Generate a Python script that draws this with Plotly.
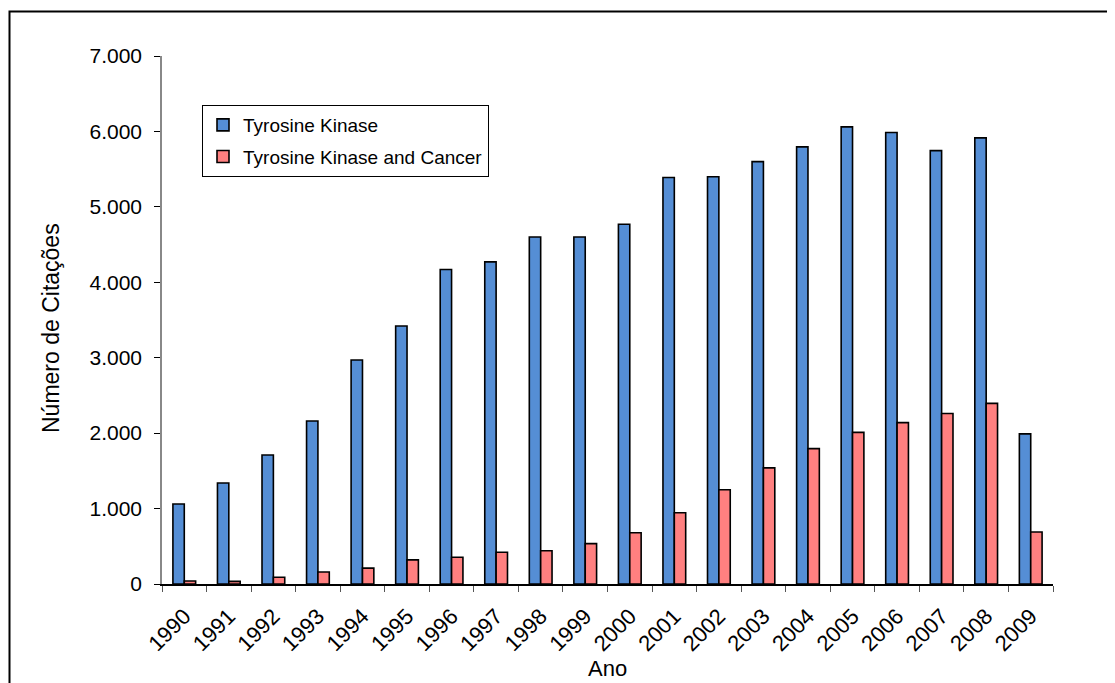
import plotly.graph_objects as go

years = [str(y) for y in range(1990, 2010)]
tyrosine_kinase = [1060, 1340, 1710, 2160, 2970, 3420, 4170, 4270, 4600, 4600,
                   4770, 5390, 5400, 5600, 5795, 6060, 5985, 5745, 5915, 1990]
tk_and_cancer = [40, 35, 90, 160, 210, 320, 355, 420, 440, 535,
                 680, 945, 1250, 1540, 1795, 2010, 2140, 2260, 2395, 690]

FONT = "Liberation Sans, Arial, sans-serif"

# page body has an 8px margin; figure is laid out so the plot lands on the reference pixels
W, H = 1107, 675
L, T = 154, 48
R, B = 62, 99
PW, PH = W - L - R, H - T - B

fig = go.Figure()
fig.add_trace(go.Bar(
    x=years, y=tyrosine_kinase, name="Tyrosine Kinase",
    marker=dict(color="#558ED5", line=dict(color="black", width=1.6)),
    legendgroup="a"))
fig.add_trace(go.Bar(
    x=years, y=tk_and_cancer, name="Tyrosine Kinase and Cancer",
    marker=dict(color="#FF8080", line=dict(color="black", width=1.6)),
    legendgroup="b"))

fig.update_layout(
    width=W, height=H,
    margin=dict(l=L, r=R, t=T, b=B),
    paper_bgcolor="white", plot_bgcolor="white",
    barmode="group", bargap=0.49, bargroupgap=0,
    separators=",.",
    font=dict(family=FONT, color="black", size=21),
    showlegend=True,
    legend=dict(
        x=(194 - L) / PW, y=(T + PH - 97) / PH, xanchor="left", yanchor="top",
        bordercolor="black", borderwidth=1, bgcolor="white",
        font=dict(family=FONT, size=19, color="black"),
        tracegroupgap=4, traceorder="grouped",
    ),
    xaxis=dict(
        type="category",
        showline=True, linecolor="black", linewidth=1.5,
        ticks="outside", tickson="boundaries", ticklen=6, tickcolor="#555",
        tickangle=-45, tickfont=dict(size=22), ticklabelstandoff=9,
        showgrid=False, zeroline=False,
    ),
    yaxis=dict(
        range=[0, 7000], dtick=1000, tickformat=",.0f",
        showline=True, linecolor="#888", linewidth=1.5,
        ticks="outside", ticklen=6, tickcolor="black",
        tickfont=dict(size=21), ticklabelstandoff=8,
        showgrid=False, zeroline=False,
    ),
    annotations=[
        dict(text="Ano", xref="paper", yref="paper",
             x=0.5, y=(584 - 668) / 528, xanchor="center", yanchor="middle",
             showarrow=False, font=dict(size=22)),
        dict(text="Número de Citações", xref="paper", yref="paper",
             x=(51 - 162) / 891, y=(584 - 328) / 528, xanchor="center", yanchor="middle",
             textangle=-90, showarrow=False, font=dict(size=23)),
    ],
    shapes=[dict(type="rect", xref="paper", yref="paper",
                 x0=(1.5 - L) / PW, x1=1.3, y0=-0.4, y1=(T + PH - 3.5) / PH,
                 line=dict(color="black", width=2), layer="below")],
)

fig.write_html("out.html")
